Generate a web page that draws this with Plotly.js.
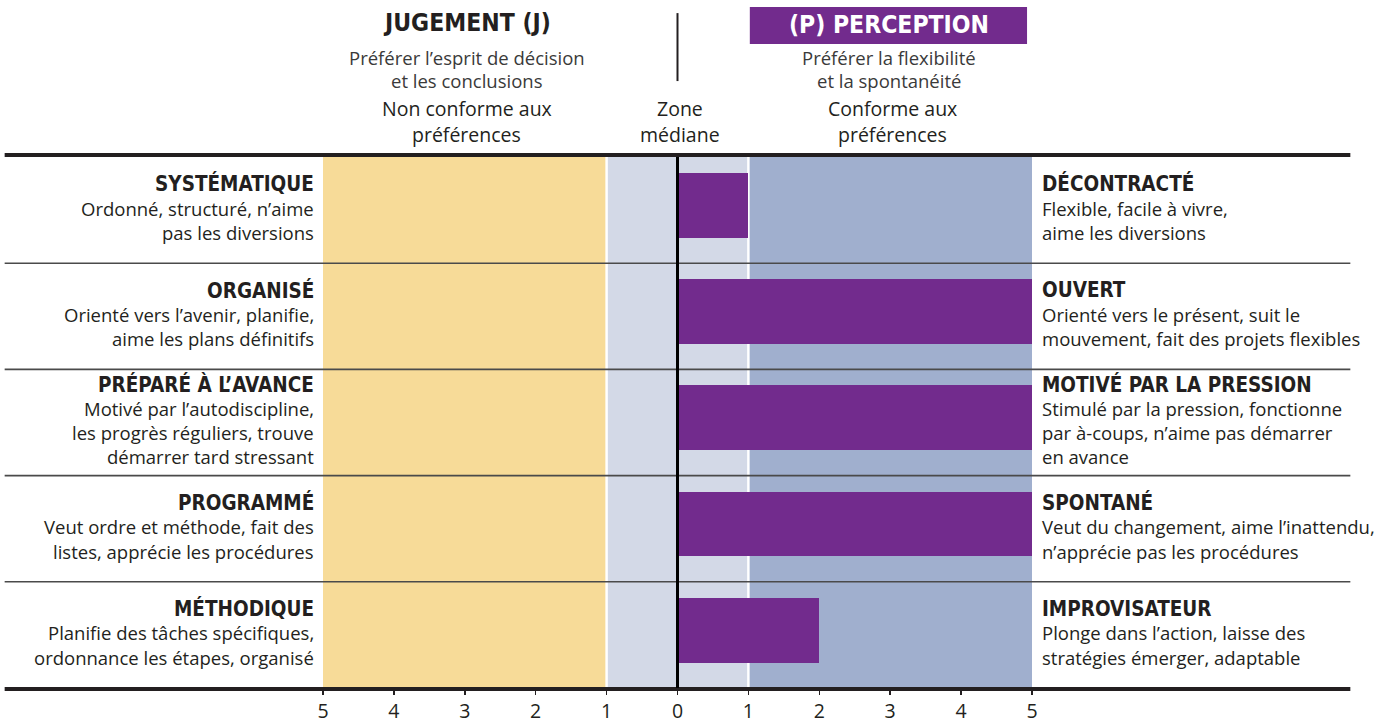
<!DOCTYPE html>
<html><head><meta charset="utf-8">
<script src="https://cdn.plot.ly/plotly-3.0.1.min.js"></script>
<style>html,body{margin:0;padding:0;background:#fff}#chart{width:1388px;height:726px}</style>
</head><body><div id="chart"></div>
<script>
// ---- data ----
const leftTitles = ["SYSTÉMATIQUE", "ORGANISÉ", "PRÉPARÉ À L’AVANCE", "PROGRAMMÉ", "MÉTHODIQUE"];
const leftDescs = [
  ["Ordonné, structuré, n’aime", "pas les diversions"],
  ["Orienté vers l’avenir, planifie,", "aime les plans définitifs"],
  ["Motivé par l’autodiscipline,", "les progrès réguliers, trouve", "démarrer tard stressant"],
  ["Veut ordre et méthode, fait des", "listes, apprécie les procédures"],
  ["Planifie des tâches spécifiques,", "ordonnance les étapes, organisé"]
];
const rightTitles = ["DÉCONTRACTÉ", "OUVERT", "MOTIVÉ PAR LA PRESSION", "SPONTANÉ", "IMPROVISATEUR"];
const rightDescs = [
  ["Flexible, facile à vivre,", "aime les diversions"],
  ["Orienté vers le présent, suit le", "mouvement, fait des projets flexibles"],
  ["Stimulé par la pression, fonctionne", "par à-coups, n’aime pas démarrer", "en avance"],
  ["Veut du changement, aime l’inattendu,", "n’apprécie pas les procédures"],
  ["Plonge dans l’action, laisse des", "stratégies émerger, adaptable"]
];
const scores = [1, 5, 5, 5, 2];            // P-side scores
const tickValues = [-5, -4, -3, -2, -1, 0, 1, 2, 3, 4, 5];
const tickLabels = ["5", "4", "3", "2", "1", "0", "1", "2", "3", "4", "5"];
const zoneFrom = [-5, -1, 1];
const zoneTo = [-1, 1, 5];
const zoneColors = ["#F7DB98", "#D3D9E7", "#A0AFCE"];
const zoneLabels = [["Non conforme aux", "préférences"], ["Zone", "médiane"], ["Conforme aux", "préférences"]];
const leftHeader = "JUGEMENT (J)";
const leftSub = ["Préférer l’esprit de décision", "et les conclusions"];
const rightHeader = "(P) PERCEPTION";
const rightSub = ["Préférer la flexibilité", "et la spontanéité"];

// ---- fonts ----
function hasFont(name) {
  const c = document.createElement("canvas").getContext("2d");
  const s = "SYSTÉMATIQUE mwil 0123";
  let diff = false;
  ["monospace", "serif"].forEach(g => {
    c.font = "bold 40px " + g; const a = c.measureText(s).width;
    c.font = 'bold 40px "' + name + '", ' + g; const b = c.measureText(s).width;
    if (Math.abs(a - b) > 0.5) diff = true;
  });
  return diff;
}
const narrow = hasFont("Liberation Sans Narrow");
const HEAD = narrow ? "Liberation Sans Narrow" : "DejaVu Sans Condensed, sans-serif";
const HEAD_SIZE = narrow ? 25 : 20.5;
const TITLE_SIZE = narrow ? 28.5 : 24.5;
const BODY = "Open Sans, Noto Sans, sans-serif";
const BODY_SIZE = 18.5;
const PURPLE = "#722B8D";
const TXT = "#231F20";

const rowIdx = leftTitles.map((_, i) => i);

const trace = {
  type: "bar", orientation: "h",
  x: scores, y: rowIdx, base: 0,
  width: 0.61, offset: -0.35,
  marker: {color: PURPLE, line: {width: 0}},
  hoverinfo: "skip", showlegend: false
};

const shapes = [];
const annotations = [];

// zone bands
zoneFrom.forEach((f, k) => {
  shapes.push({type: "rect", layer: "below", xref: "x", yref: "paper",
    x0: f, x1: zoneTo[k], y0: 0, y1: 1, fillcolor: zoneColors[k], line: {width: 0}});
});
[-1, 1].forEach(v => shapes.push({type: "line", layer: "below", xref: "x", yref: "paper",
  x0: v, x1: v, y0: 0, y1: 1, line: {color: "#ffffff", width: 2.5}}));

// row separators
for (let i = 1; i < leftTitles.length; i++) {
  shapes.push({type: "line", layer: "above", xref: "paper", yref: "y",
    x0: -0.449, x1: 1.449, y0: i - 0.5, y1: i - 0.5, line: {color: "#4a4a4a", width: 1.6}});
}
// top & bottom thick rules
shapes.push({type: "line", xref: "paper", yref: "paper", x0: -0.449, x1: 1.449, y0: 1.004, y1: 1.004, line: {color: "#231F20", width: 4}});
shapes.push({type: "line", xref: "paper", yref: "paper", x0: -0.449, x1: 1.449, y0: -0.002, y1: -0.002, line: {color: "#231F20", width: 4}});
// zero line
shapes.push({type: "line", layer: "above", xref: "x", yref: "paper", x0: 0, x1: 0, y0: 0, y1: 1, line: {color: "#000", width: 3}});
// header divider
shapes.push({type: "line", xref: "x", yref: "paper", x0: 0, x1: 0, y0: 1.143, y1: 1.271, line: {color: "#231F20", width: 2}});
// perception header box
shapes.push({type: "rect", xref: "x", yref: "paper", x0: 1.02, x1: 4.93, y0: 1.2128, y1: 1.2825, fillcolor: PURPLE, line: {width: 0}});

// row labels: text block vertically centred on the row
const LINE = 24.3;
function addBlock(i, xp, anchor, title, descs) {
  const n = descs.length + 1;
  const lines = [title].concat(descs);
  lines.forEach((t, k) => {
    const shift = -(k - (n - 1) / 2) * LINE + 2;
    annotations.push({xref: "paper", yref: "y", x: xp, y: i, yshift: shift, xanchor: anchor, yanchor: "middle",
      text: k === 0 ? "<b>" + t + "</b>" : t, showarrow: false, align: anchor,
      font: k === 0 ? {family: HEAD, size: HEAD_SIZE, color: TXT} : {family: BODY, size: BODY_SIZE, color: TXT}});
  });
}
rowIdx.forEach(i => {
  addBlock(i, -0.0099, "right", leftTitles[i], leftDescs[i]);
  addBlock(i, 1.0113, "left", rightTitles[i], rightDescs[i]);
});

// zone labels (two lines each)
const zoneLineY = [1.0904, 1.0424];
zoneFrom.forEach((f, k) => {
  zoneLabels[k].forEach((t, j) => {
    annotations.push({xref: "x", yref: "paper", x: (f + zoneTo[k]) / 2 + 0.03, y: zoneLineY[j], xanchor: "center", yanchor: "middle",
      text: t, showarrow: false, font: {family: BODY, size: 19.5, color: TXT}});
  });
});

// headers
const subLineY = [1.188, 1.145];
annotations.push({xref: "x", yref: "paper", x: -2.97, y: 1.2524, xanchor: "center", yanchor: "middle",
  text: "<b>" + leftHeader + "</b>", showarrow: false, font: {family: HEAD, size: TITLE_SIZE, color: TXT}});
annotations.push({xref: "x", yref: "paper", x: 2.98, y: 1.2486, xanchor: "center", yanchor: "middle",
  text: "<b>" + rightHeader + "</b>", showarrow: false, font: {family: HEAD, size: TITLE_SIZE, color: "#ffffff"}});
leftSub.forEach((t, j) => annotations.push({xref: "x", yref: "paper", x: -2.97, y: subLineY[j], xanchor: "center", yanchor: "middle",
  text: t, showarrow: false, font: {family: BODY, size: 18.5, color: "#3a3a3a"}}));
rightSub.forEach((t, j) => annotations.push({xref: "x", yref: "paper", x: 2.98, y: subLineY[j], xanchor: "center", yanchor: "middle",
  text: t, showarrow: false, font: {family: BODY, size: 18.5, color: "#3a3a3a"}}));

const layout = {
  width: 1388, height: 726,
  margin: {l: 323, r: 356, t: 157, b: 38, pad: 0},
  paper_bgcolor: "#ffffff", plot_bgcolor: "rgba(0,0,0,0)",
  bargap: 0,
  xaxis: {range: [-5, 5], tickvals: tickValues, ticktext: tickLabels, ticks: "outside", ticklen: 6,
    tickwidth: 1.5, tickcolor: "#231F20", showgrid: false, zeroline: false, showline: false, fixedrange: true,
    tickfont: {family: BODY, size: 19.5, color: TXT}},
  yaxis: {range: [4.5, -0.5], showticklabels: false, showgrid: false, zeroline: false, showline: false, ticks: "", fixedrange: true},
  shapes: shapes, annotations: annotations, showlegend: false
};

Plotly.newPlot("chart", [trace], layout, {staticPlot: true, displayModeBar: false});
</script>
</body></html>
